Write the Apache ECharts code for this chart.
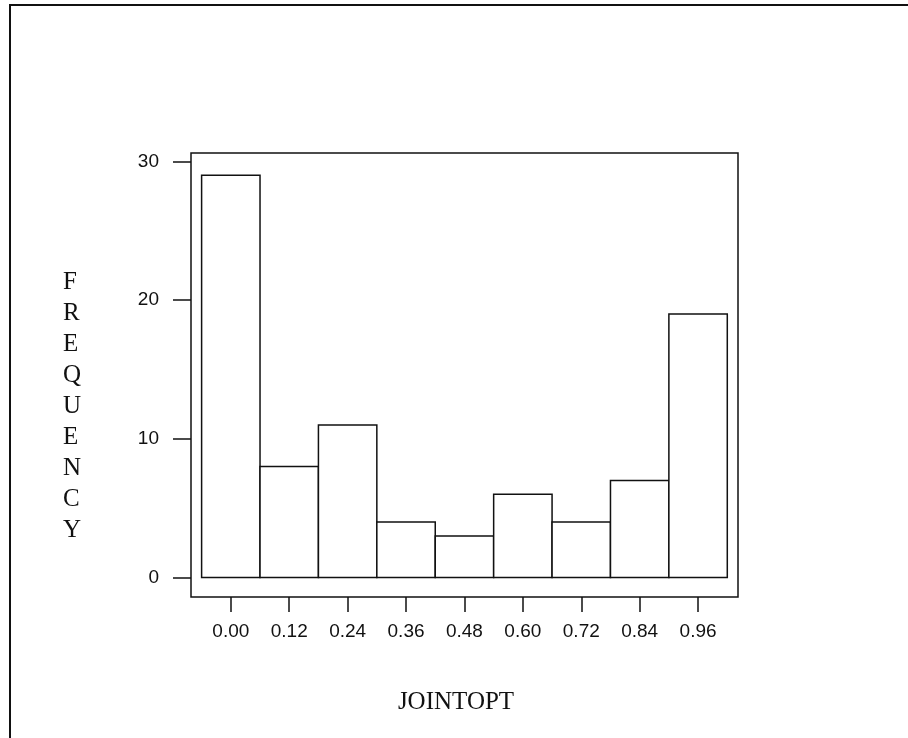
<!DOCTYPE html>
<html>
<head>
<meta charset="utf-8">
<title>JOINTOPT histogram</title>
<script src="https://cdn.jsdelivr.net/npm/echarts@6/dist/echarts.min.js"></script>
<style>
  html, body { margin: 0; padding: 0; background: #fff; }
  #chart { width: 908px; height: 738px; }
</style>
</head>
<body>
<div id="chart"></div>
<script>
// Histogram bins (midpoints) and their frequencies
const binMidpoints = [0.00, 0.12, 0.24, 0.36, 0.48, 0.60, 0.72, 0.84, 0.96];
const frequencies = [29, 8, 11, 4, 3, 6, 4, 7, 19];
const binWidth = 0.12;
const yTicks = [0, 10, 20, 30];
const xTickLabels = ['0.00', '0.12', '0.24', '0.36', '0.48', '0.60', '0.72', '0.84', '0.96'];
const yTitle = 'FREQUENCY';
const xTitle = 'JOINTOPT';

const ink = '#111';
const sans = "'Liberation Sans', Arial, sans-serif";
const serif = "'Liberation Serif', 'Times New Roman', serif";

const chart = echarts.init(document.getElementById('chart'), null, { renderer: 'canvas' });

const option = {
  animation: false,
  backgroundColor: '#fff',
  grid: {
    left: 191, top: 153, width: 547, height: 444,
    show: true, borderColor: ink, borderWidth: 1.5, backgroundColor: 'transparent'
  },
  xAxis: {
    type: 'value',
    position: 'bottom',
    min: -0.0818, max: 1.042,
    splitLine: { show: false },
    axisLine: { show: false, onZero: false },
    axisTick: {
      show: true, length: 15, inside: false,
      lineStyle: { color: ink, width: 1.5 },
      customValues: binMidpoints
    },
    axisLabel: {
      show: true, margin: 25, color: ink, fontFamily: sans, fontSize: 19,
      customValues: binMidpoints,
      formatter: v => xTickLabels[binMidpoints.findIndex(m => Math.abs(m - v) < 1e-6)]
    }
  },
  yAxis: {
    type: 'value',
    position: 'left',
    min: -1.40, max: 30.61,
    splitLine: { show: false },
    axisLine: { show: false, onZero: false },
    axisTick: {
      show: true, length: 18, inside: false,
      lineStyle: { color: ink, width: 1.5 },
      customValues: yTicks
    },
    axisLabel: {
      show: true, margin: 32, color: ink, fontFamily: sans, fontSize: 19,
      customValues: yTicks,
      formatter: v => String(Math.round(v))
    }
  },
  series: [{
    type: 'custom',
    data: binMidpoints.map((m, i) => [m, frequencies[i]]),
    renderItem: function (params, api) {
      const mid = api.value(0);
      const f = api.value(1);
      const p0 = api.coord([mid - binWidth / 2, 0]);
      const p1 = api.coord([mid + binWidth / 2, f]);
      return {
        type: 'rect',
        shape: { x: p0[0], y: p1[1], width: p1[0] - p0[0], height: p0[1] - p1[1] },
        style: { fill: '#fff', stroke: ink, lineWidth: 1.5 }
      };
    }
  }],
  graphic: [
    {
      // page frame (open on the right and bottom)
      type: 'rect', silent: true,
      shape: { x: 10, y: 5, width: 1000, height: 1000 },
      style: { fill: 'none', stroke: ink, lineWidth: 2 }
    },
    {
      // vertical stacked axis title
      type: 'text', silent: true,
      left: 63, top: 267,
      style: {
        text: yTitle.split('').join('\n'),
        font: '25px ' + serif, fill: ink,
        lineHeight: 31, align: 'center'
      }
    },
    {
      type: 'text', silent: true,
      x: 456, y: 702,
      style: {
        text: xTitle, font: '25px ' + serif, fill: ink,
        align: 'center', verticalAlign: 'middle'
      }
    }
  ]
};

chart.setOption(option);
</script>
</body>
</html>
